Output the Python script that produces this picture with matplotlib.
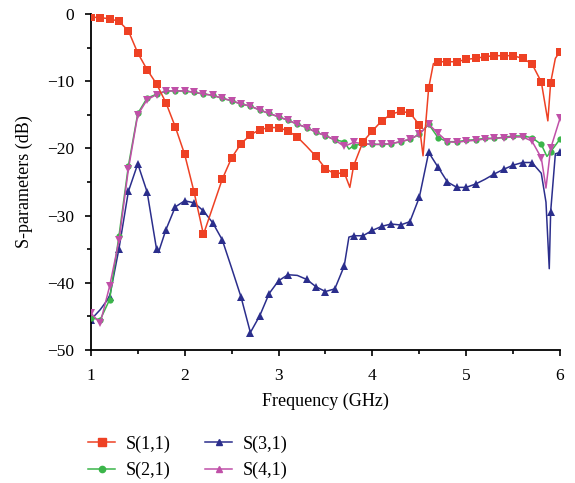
# S-parameters of the four-port structure

import matplotlib.pyplot as plt
from matplotlib.lines import Line2D
import numpy as np

plt.rcParams["font.family"] = ["Liberation Serif", "DejaVu Serif"]

# S(1,1)
s11_f = [1.0, 1.1, 1.2, 1.3, 1.4, 1.5, 1.6, 1.7, 1.8, 1.9, 2.0, 2.1, 2.2, 2.3,
         2.4, 2.5, 2.6, 2.7, 2.8, 2.9, 3.0, 3.1, 3.2, 3.3, 3.4, 3.5, 3.6, 3.7,
         3.76, 3.8, 3.9, 4.0, 4.1, 4.2, 4.3, 4.4, 4.5, 4.54, 4.6, 4.65, 4.7,
         4.8, 4.9, 5.0, 5.1, 5.2, 5.3, 5.4, 5.5, 5.6, 5.7, 5.8, 5.87, 5.9,
         5.95, 6.0]
s11_db = [-0.45, -0.55, -0.7, -1.1, -2.5, -5.8, -8.3, -10.4, -13.2, -16.8,
          -20.9, -26.5, -32.8, -28.7, -24.6, -21.4, -19.3, -18.0, -17.2, -16.9,
          -16.9, -17.4, -18.3, -19.7, -21.2, -23.0, -23.8, -23.6, -25.8, -22.6,
          -19.0, -17.4, -15.9, -14.9, -14.5, -14.7, -16.5, -21.1, -11.0, -7.4,
          -7.1, -7.1, -7.1, -6.75, -6.6, -6.35, -6.2, -6.2, -6.2, -6.6, -7.4,
          -10.1, -15.9, -10.2, -6.6, -5.6]

# S(2,1)
s21_f = [1.0, 1.1, 1.2, 1.3, 1.4, 1.5, 1.6, 1.7, 1.8, 1.9, 2.0, 2.1, 2.2, 2.3,
         2.4, 2.5, 2.6, 2.7, 2.8, 2.9, 3.0, 3.1, 3.2, 3.3, 3.4, 3.5, 3.6, 3.7,
         3.75, 3.8, 3.9, 4.0, 4.1, 4.2, 4.3, 4.4, 4.5, 4.6, 4.7, 4.8, 4.9,
         5.0, 5.1, 5.2, 5.3, 5.4, 5.5, 5.6, 5.7, 5.8, 5.86, 5.9, 6.0]
s21_db = [-45.2, -45.5, -42.5, -33.0, -22.6, -14.8, -12.5, -11.95, -11.45,
          -11.45, -11.45, -11.65, -11.9, -12.1, -12.55, -12.9, -13.4, -13.7,
          -14.3, -14.8, -15.3, -15.8, -16.4, -16.9, -17.6, -18.1, -18.75, -19.0,
          -20.1, -19.6, -19.3, -19.4, -19.4, -19.3, -19.0, -18.65, -17.9, -16.4,
          -18.4, -19.0, -19.0, -18.8, -18.7, -18.5, -18.5, -18.35, -18.15,
          -18.15, -18.4, -19.4, -21.2, -20.5, -18.6]

# S(3,1)
s31_f = [1.0, 1.1, 1.2, 1.3, 1.4, 1.5, 1.6, 1.7, 1.72, 1.8, 1.9, 2.0, 2.1,
         2.2, 2.3, 2.4, 2.5, 2.6, 2.7, 2.8, 2.9, 3.0, 3.1, 3.2, 3.3, 3.4, 3.5,
         3.6, 3.7, 3.75, 3.8, 3.9, 4.0, 4.1, 4.2, 4.3, 4.4, 4.5, 4.6, 4.7,
         4.8, 4.9, 5.0, 5.1, 5.2, 5.3, 5.4, 5.5, 5.6, 5.7, 5.8, 5.85, 5.885,
         5.9, 5.95, 6.0]
s31_db = [-45.5, -44.0, -42.1, -34.9, -26.4, -22.3, -26.5, -35.0, -35.5,
          -32.1, -28.7, -27.8, -28.1, -29.3, -31.1, -33.6, -37.8, -42.1, -47.4,
          -44.9, -41.6, -39.7, -38.8, -38.9, -39.5, -40.6, -41.3, -40.9, -37.5,
          -33.2, -33.0, -33.0, -32.2, -31.6, -31.25, -31.4, -30.9, -27.3, -20.6,
          -22.8, -25.0, -25.8, -25.8, -25.3, -24.6, -23.8, -23.1, -22.5, -22.1,
          -22.1, -23.7, -28.0, -37.9, -29.4, -20.8, -20.6]

# S(4,1)
s41_f = [1.0, 1.1, 1.2, 1.3, 1.4, 1.5, 1.6, 1.7, 1.8, 1.9, 2.0, 2.1, 2.2, 2.3,
         2.4, 2.5, 2.6, 2.7, 2.8, 2.9, 3.0, 3.1, 3.2, 3.3, 3.4, 3.5, 3.6, 3.7,
         3.8, 3.9, 4.0, 4.1, 4.2, 4.3, 4.4, 4.5, 4.6, 4.7, 4.8, 4.9, 5.0, 5.1,
         5.2, 5.3, 5.4, 5.5, 5.6, 5.7, 5.8, 5.85, 5.9, 6.0]
s41_db = [-44.5, -46.0, -40.5, -33.7, -23.1, -15.0, -12.75, -12.0, -11.45,
          -11.45, -11.45, -11.65, -11.9, -12.1, -12.55, -12.9, -13.4, -13.7,
          -14.3, -14.8, -15.3, -15.8, -16.4, -16.9, -17.6, -18.1, -18.75, -19.7,
          -19.1, -19.3, -19.4, -19.4, -19.3, -19.0, -18.65, -17.9, -16.4, -17.75,
          -19.0, -19.1, -18.9, -18.8, -18.6, -18.5, -18.4, -18.3, -18.3, -18.9,
          -21.4, -25.9, -20.0, -15.5]

labels = ["S(1,1)", "S(2,1)", "S(3,1)", "S(4,1)"]


def grid_marks(f, skip=()):
    # markers only sit on the 0.1 GHz sweep points (a few are hidden in the original)
    idx = []
    for i, v in enumerate(f):
        on_grid = abs(v * 10 - round(v * 10)) < 1e-6
        if on_grid and not any(abs(v - s) < 1e-6 for s in skip):
            idx.append(i)
    return idx


fig = plt.figure(figsize=(5.75, 4.83), dpi=100)
ax = fig.add_axes([0.158, 0.2754, 0.816, 0.6956])

series = [
    (s31_f, s31_db, "#2B2E8C", "^", 5.5, 2, (1.1, 2.5, 3.2, 5.2, 5.8)),
    (s21_f, s21_db, "#3BB54A", "o", 4.5, 3, ()),
    (s41_f, s41_db, "#C050A8", "v", 5.5, 4, ()),
    (s11_f, s11_db, "#EE4124", "s", 5.5, 5, (2.3, 3.3)),
]
for f, db, color, mk, ms, z, skip in series:
    ax.plot(f, db, color=color, linewidth=1.1, marker=mk, markersize=ms,
            markevery=grid_marks(f, skip), markeredgewidth=0, zorder=z)

ax.set_xlim(1, 6)
ax.set_ylim(-50, 0)
ax.set_xticks(np.arange(1, 7, 1))
ax.set_xticks(np.arange(1, 6.01, 0.5), minor=True)
ax.set_yticks(np.arange(-50, 1, 10))
ax.set_yticks(np.arange(-50, 1, 5), minor=True)
ax.tick_params(which="both", direction="out", labelsize=12.5, width=1.2)
ax.tick_params(which="major", length=4)
ax.tick_params(which="minor", length=3)
ax.tick_params(axis="x", pad=9)
ax.tick_params(axis="y", pad=8)
for side in ["top", "right"]:
    ax.spines[side].set_visible(False)
for side in ["left", "bottom"]:
    ax.spines[side].set_linewidth(1.3)

ax.set_xlabel("Frequency (GHz)", fontsize=13, labelpad=6)
ax.set_ylabel("S-parameters (dB)", fontsize=13, labelpad=10)

handles = [
    Line2D([], [], color="#EE4124", marker="s", markersize=6, linewidth=1.1),
    Line2D([], [], color="#3BB54A", marker="o", markersize=4.5, linewidth=1.1),
    Line2D([], [], color="#2B2E8C", marker="^", markersize=5, linewidth=1.1),
    Line2D([], [], color="#C050A8", marker="^", markersize=5, linewidth=1.1),
]
fig.legend(handles, labels, ncol=2, loc="upper left",
           bbox_to_anchor=(0.125, 0.132), frameon=False, fontsize=13,
           handlelength=1.5, handletextpad=0.6, columnspacing=1.9,
           labelspacing=0.5)

fig.savefig("out.png", dpi=100)
